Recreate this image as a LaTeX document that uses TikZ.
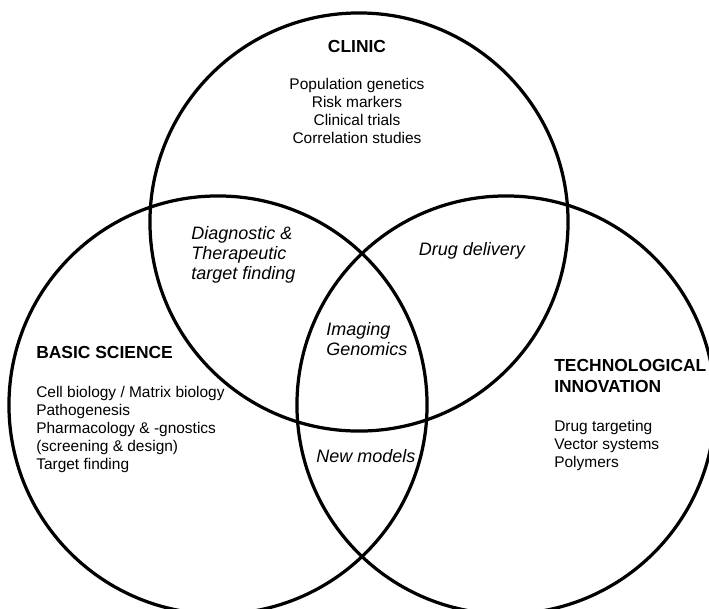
\documentclass[tikz,border=0pt]{standalone}
\usepackage{fontspec}
\setmainfont{Liberation Sans}
\usepackage{tikz}
\usetikzlibrary{positioning}
\tikzset{venncircle/.style={draw=black,line width=2.3pt}}
\tikzset{setname/.style={inner sep=0pt,align=left,
font=\fontsize{12.4}{15.6}\selectfont\bfseries}}
\tikzset{setitems/.style={inner sep=0pt,align=left,
font=\fontsize{11}{12.8}\selectfont}}
\tikzset{overlap/.style={inner sep=0pt,align=left,
font=\fontsize{12.8}{14.4}\selectfont\itshape}}

\begin{document}
\begin{tikzpicture}[x=0.025cm,y=-0.025cm]

        \useasboundingbox (0,0) rectangle (709,608);

        \coordinate (clinicc) at (359,222);
        \coordinate (basicc) at (218,405);
        \coordinate (technoc) at (506,405);

        \draw[venncircle] (clinicc) circle[radius=5.225cm];
        \draw[venncircle] (basicc) circle[radius=5.225cm];
        \draw[venncircle] (technoc) circle[radius=5.225cm];

        \node[setname] (clinic) at (357,46) {CLINIC};
        \node[setitems,align=center] (clinicitems) [below=18pt of clinic] {Population genetics\\Risk markers\\Clinical trials\\Correlation studies};

        \node[setname,anchor=west] (basic) at (36,352) {BASIC SCIENCE};
        \node[setitems] (basicitems) [below right=19.5pt and 0pt of basic.south west] {Cell biology / Matrix biology\\Pathogenesis\\Pharmacology \& -gnostics\\(screening \& design)\\Target finding};

        \node[setname,anchor=west] (techno) at (554,376) {TECHNOLOGICAL\\INNOVATION};
        \node[setitems] (technoitems) [below right=18.8pt and 0pt of techno.south west] {Drug targeting\\Vector systems\\Polymers};

        \node[overlap,anchor=west] (diagnostic) at (191,255) {Diagnostic \&\\Therapeutic\\target finding};
        \node[overlap] (delivery) at (472,251) {Drug delivery};
        \node[overlap,anchor=west] (imaging) at (326,339) {Imaging\\Genomics};
        \node[overlap] (newmodels) at (366,456) {New models};

    \end{tikzpicture}
\end{document}
